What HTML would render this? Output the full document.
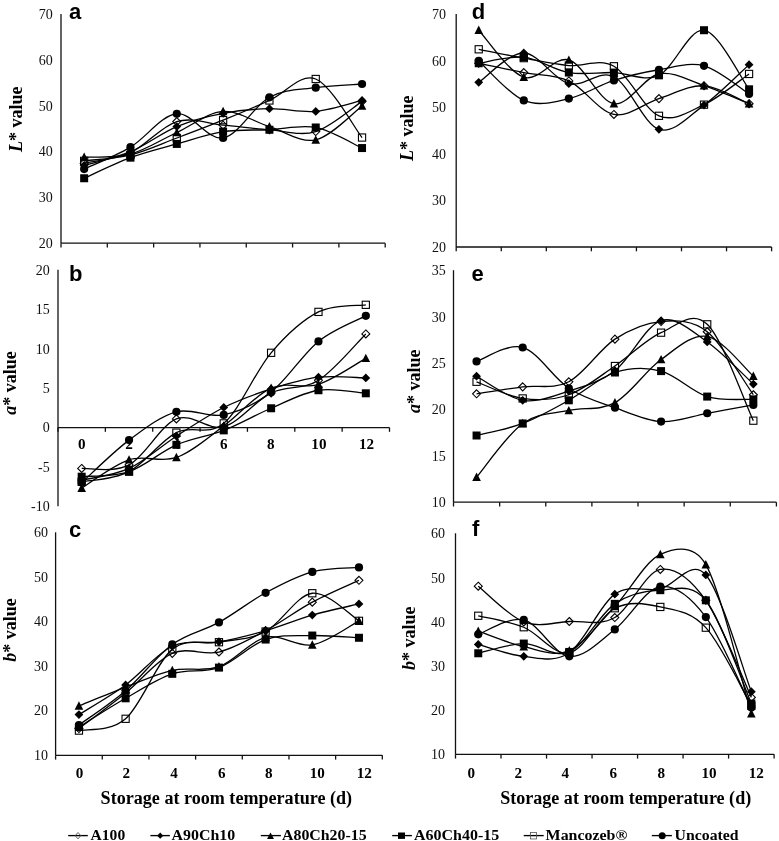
<!DOCTYPE html>
<html><head><meta charset="utf-8"><title>Color values during storage</title>
<style>
html,body{margin:0;padding:0;background:#fff;}
body{width:779px;height:841px;overflow:hidden;}
svg{display:block;will-change:transform;}
.ax{stroke:#111;stroke-width:1.30;fill:none;}
.ln{stroke:#000;stroke-width:1.30;fill:none;}
.tl{font-family:"Liberation Serif",serif;font-size:14px;text-anchor:end;fill:#111;}
.xl{font-family:"Liberation Serif",serif;font-size:14px;font-weight:bold;fill:#000;}
.pl{font-family:"Liberation Sans",sans-serif;font-size:22px;font-weight:bold;fill:#000;}
.yt{font-family:"Liberation Serif",serif;font-size:18px;font-weight:bold;fill:#000;}
.xt{font-family:"Liberation Serif",serif;font-size:18px;font-weight:bold;fill:#000;}
.lg{font-family:"Liberation Serif",serif;font-size:14.5px;font-weight:bold;fill:#000;}
</style></head>
<body>
<svg width="779" height="841" viewBox="0 0 779 841">
<rect width="779" height="841" fill="#fff"/>
<line x1="61.00" y1="14.10" x2="61.00" y2="243.20" class="ax"/>
<line x1="61.00" y1="243.20" x2="385.20" y2="243.20" class="ax"/>
<line x1="61.00" y1="243.20" x2="61.00" y2="247.50" class="ax"/>
<line x1="107.31" y1="243.20" x2="107.31" y2="247.50" class="ax"/>
<line x1="153.63" y1="243.20" x2="153.63" y2="247.50" class="ax"/>
<line x1="199.94" y1="243.20" x2="199.94" y2="247.50" class="ax"/>
<line x1="246.26" y1="243.20" x2="246.26" y2="247.50" class="ax"/>
<line x1="292.57" y1="243.20" x2="292.57" y2="247.50" class="ax"/>
<line x1="338.89" y1="243.20" x2="338.89" y2="247.50" class="ax"/>
<line x1="385.20" y1="243.20" x2="385.20" y2="247.50" class="ax"/>
<text x="52.70" y="19.20" class="tl">70</text>
<text x="52.70" y="64.94" class="tl">60</text>
<text x="52.70" y="110.68" class="tl">50</text>
<text x="52.70" y="156.42" class="tl">40</text>
<text x="52.70" y="202.16" class="tl">30</text>
<text x="52.70" y="247.90" class="tl">20</text>
<path d="M84.16,163.16 C91.88,161.40 115.03,159.57 130.47,152.63 C145.91,145.70 161.35,126.11 176.79,121.53 C192.22,116.96 207.66,123.82 223.10,125.19 C238.54,126.56 253.98,128.70 269.41,129.76 C284.85,130.83 300.29,136.32 315.73,131.59 C331.17,126.87 354.32,106.44 362.04,101.41" class="ln"/>
<path d="M84.16,165.44 C91.88,163.15 115.03,158.20 130.47,151.72 C145.91,145.24 161.35,132.97 176.79,126.56 C192.22,120.16 207.66,116.27 223.10,113.30 C238.54,110.33 253.98,109.03 269.41,108.72 C284.85,108.42 300.29,112.84 315.73,111.47 C331.17,110.10 354.32,102.32 362.04,100.49" class="ln"/>
<path d="M84.16,157.21 C91.88,156.68 115.03,158.12 130.47,154.01 C145.91,149.89 161.35,139.60 176.79,132.51 C192.22,125.42 207.66,112.46 223.10,111.47 C238.54,110.48 253.98,121.84 269.41,126.56 C284.85,131.29 300.29,143.26 315.73,139.83 C331.17,136.40 354.32,111.62 362.04,105.98" class="ln"/>
<path d="M84.16,178.25 C91.88,174.82 115.03,163.38 130.47,157.67 C145.91,151.95 161.35,148.29 176.79,143.94 C192.22,139.60 207.66,133.96 223.10,131.59 C238.54,129.23 253.98,130.45 269.41,129.76 C284.85,129.08 300.29,124.43 315.73,127.48 C331.17,130.53 354.32,144.63 362.04,148.06" class="ln"/>
<path d="M84.16,160.87 C91.88,159.88 115.03,158.73 130.47,154.92 C145.91,151.11 161.35,143.79 176.79,138.00 C192.22,132.20 207.66,126.41 223.10,120.16 C238.54,113.91 253.98,107.35 269.41,100.49 C284.85,93.63 300.29,72.82 315.73,78.99 C331.17,85.17 354.32,127.78 362.04,137.54" class="ln"/>
<path d="M84.16,169.10 C91.88,165.44 115.03,156.37 130.47,147.15 C145.91,137.92 161.35,115.28 176.79,113.76 C192.22,112.23 207.66,140.74 223.10,138.00 C238.54,135.25 253.98,105.68 269.41,97.29 C284.85,88.90 300.29,89.89 315.73,87.68 C331.17,85.47 354.32,84.63 362.04,84.02" class="ln"/>
<path d="M84.16,159.16 L88.16,163.16 L84.16,167.16 L80.16,163.16 Z" fill="none" stroke="#000" stroke-width="1.1"/>
<path d="M130.47,148.63 L134.47,152.63 L130.47,156.63 L126.47,152.63 Z" fill="none" stroke="#000" stroke-width="1.1"/>
<path d="M176.79,117.53 L180.79,121.53 L176.79,125.53 L172.79,121.53 Z" fill="none" stroke="#000" stroke-width="1.1"/>
<path d="M223.10,121.19 L227.10,125.19 L223.10,129.19 L219.10,125.19 Z" fill="none" stroke="#000" stroke-width="1.1"/>
<path d="M269.41,125.76 L273.41,129.76 L269.41,133.76 L265.41,129.76 Z" fill="none" stroke="#000" stroke-width="1.1"/>
<path d="M315.73,127.59 L319.73,131.59 L315.73,135.59 L311.73,131.59 Z" fill="none" stroke="#000" stroke-width="1.1"/>
<path d="M362.04,97.41 L366.04,101.41 L362.04,105.41 L358.04,101.41 Z" fill="none" stroke="#000" stroke-width="1.1"/>
<path d="M84.16,161.04 L88.56,165.44 L84.16,169.84 L79.76,165.44 Z" fill="#000"/>
<path d="M130.47,147.32 L134.87,151.72 L130.47,156.12 L126.07,151.72 Z" fill="#000"/>
<path d="M176.79,122.16 L181.19,126.56 L176.79,130.96 L172.39,126.56 Z" fill="#000"/>
<path d="M223.10,108.90 L227.50,113.30 L223.10,117.70 L218.70,113.30 Z" fill="#000"/>
<path d="M269.41,104.32 L273.81,108.72 L269.41,113.12 L265.01,108.72 Z" fill="#000"/>
<path d="M315.73,107.07 L320.13,111.47 L315.73,115.87 L311.33,111.47 Z" fill="#000"/>
<path d="M362.04,96.09 L366.44,100.49 L362.04,104.89 L357.64,100.49 Z" fill="#000"/>
<path d="M84.16,152.61 L88.46,161.01 L79.86,161.01 Z" fill="#000"/>
<path d="M130.47,149.41 L134.77,157.81 L126.17,157.81 Z" fill="#000"/>
<path d="M176.79,127.91 L181.09,136.31 L172.49,136.31 Z" fill="#000"/>
<path d="M223.10,106.87 L227.40,115.27 L218.80,115.27 Z" fill="#000"/>
<path d="M269.41,121.96 L273.71,130.36 L265.11,130.36 Z" fill="#000"/>
<path d="M315.73,135.23 L320.03,143.63 L311.43,143.63 Z" fill="#000"/>
<path d="M362.04,101.38 L366.34,109.78 L357.74,109.78 Z" fill="#000"/>
<rect x="80.16" y="174.25" width="8.00" height="8.00" fill="#000"/>
<rect x="126.47" y="153.67" width="8.00" height="8.00" fill="#000"/>
<rect x="172.79" y="139.94" width="8.00" height="8.00" fill="#000"/>
<rect x="219.10" y="127.59" width="8.00" height="8.00" fill="#000"/>
<rect x="265.41" y="125.76" width="8.00" height="8.00" fill="#000"/>
<rect x="311.73" y="123.48" width="8.00" height="8.00" fill="#000"/>
<rect x="358.04" y="144.06" width="8.00" height="8.00" fill="#000"/>
<rect x="80.56" y="157.27" width="7.20" height="7.20" fill="none" stroke="#000" stroke-width="1.1"/>
<rect x="126.87" y="151.32" width="7.20" height="7.20" fill="none" stroke="#000" stroke-width="1.1"/>
<rect x="173.19" y="134.40" width="7.20" height="7.20" fill="none" stroke="#000" stroke-width="1.1"/>
<rect x="219.50" y="116.56" width="7.20" height="7.20" fill="none" stroke="#000" stroke-width="1.1"/>
<rect x="265.81" y="96.89" width="7.20" height="7.20" fill="none" stroke="#000" stroke-width="1.1"/>
<rect x="312.13" y="75.39" width="7.20" height="7.20" fill="none" stroke="#000" stroke-width="1.1"/>
<rect x="358.44" y="133.94" width="7.20" height="7.20" fill="none" stroke="#000" stroke-width="1.1"/>
<circle cx="84.16" cy="169.10" r="4.10" fill="#000"/>
<circle cx="130.47" cy="147.15" r="4.10" fill="#000"/>
<circle cx="176.79" cy="113.76" r="4.10" fill="#000"/>
<circle cx="223.10" cy="138.00" r="4.10" fill="#000"/>
<circle cx="269.41" cy="97.29" r="4.10" fill="#000"/>
<circle cx="315.73" cy="87.68" r="4.10" fill="#000"/>
<circle cx="362.04" cy="84.02" r="4.10" fill="#000"/>
<text x="69.00" y="18.80" class="pl">a</text>
<text transform="translate(21.60,119.20) rotate(-90)" class="yt" text-anchor="middle"><tspan font-style="italic">L</tspan>* value</text>
<line x1="58.00" y1="269.80" x2="58.00" y2="506.20" class="ax"/>
<line x1="58.00" y1="427.53" x2="389.50" y2="427.53" class="ax"/>
<line x1="58.00" y1="427.53" x2="58.00" y2="431.83" class="ax"/>
<line x1="105.36" y1="427.53" x2="105.36" y2="431.83" class="ax"/>
<line x1="152.71" y1="427.53" x2="152.71" y2="431.83" class="ax"/>
<line x1="200.07" y1="427.53" x2="200.07" y2="431.83" class="ax"/>
<line x1="247.43" y1="427.53" x2="247.43" y2="431.83" class="ax"/>
<line x1="294.79" y1="427.53" x2="294.79" y2="431.83" class="ax"/>
<line x1="342.14" y1="427.53" x2="342.14" y2="431.83" class="ax"/>
<line x1="389.50" y1="427.53" x2="389.50" y2="431.83" class="ax"/>
<text x="49.70" y="274.90" class="tl">20</text>
<text x="49.70" y="314.23" class="tl">15</text>
<text x="49.70" y="353.57" class="tl">10</text>
<text x="49.70" y="392.90" class="tl">5</text>
<text x="49.70" y="432.23" class="tl">0</text>
<text x="49.70" y="471.57" class="tl">-5</text>
<text x="49.70" y="510.90" class="tl">-10</text>
<path d="M81.68,468.44 C89.57,467.85 113.25,473.16 129.04,464.90 C144.82,456.64 160.61,425.24 176.39,418.88 C192.18,412.52 207.96,431.07 223.75,426.75 C239.54,422.42 255.32,400.66 271.11,392.92 C286.89,385.18 302.68,390.17 318.46,380.33 C334.25,370.50 357.93,341.66 365.82,333.92" class="ln"/>
<path d="M81.68,480.24 C89.57,478.27 113.25,475.78 129.04,468.44 C144.82,461.10 160.61,446.35 176.39,436.19 C192.18,426.03 207.96,415.34 223.75,407.47 C239.54,399.61 255.32,394.03 271.11,388.99 C286.89,383.94 302.68,379.02 318.46,377.19 C334.25,375.35 357.93,377.84 365.82,377.97" class="ln"/>
<path d="M81.68,488.11 C89.57,483.39 113.25,464.90 129.04,459.79 C144.82,454.67 160.61,463.06 176.39,457.43 C192.18,451.79 207.96,437.50 223.75,425.96 C239.54,414.42 255.32,395.15 271.11,388.20 C286.89,381.25 302.68,389.25 318.46,384.27 C334.25,379.28 357.93,362.63 365.82,358.31" class="ln"/>
<path d="M81.68,476.70 C89.57,475.85 113.25,476.90 129.04,471.59 C144.82,466.28 160.61,451.71 176.39,444.84 C192.18,437.97 207.96,436.46 223.75,430.37 C239.54,424.27 255.32,414.95 271.11,408.26 C286.89,401.57 302.68,392.74 318.46,390.25 C334.25,387.75 357.93,392.80 365.82,393.31" class="ln"/>
<path d="M81.68,481.81 C89.57,480.11 113.25,479.78 129.04,471.59 C144.82,463.39 160.61,440.68 176.39,432.65 C192.18,424.61 207.96,436.67 223.75,423.36 C239.54,410.06 255.32,371.38 271.11,352.80 C286.89,334.22 302.68,319.89 318.46,311.89 C334.25,303.90 357.93,305.99 365.82,304.81" class="ln"/>
<path d="M81.68,482.60 C89.57,475.52 113.25,451.92 129.04,440.12 C144.82,428.32 160.61,416.00 176.39,411.80 C192.18,407.60 207.96,418.22 223.75,414.95 C239.54,411.67 255.32,404.39 271.11,392.13 C286.89,379.87 302.68,354.11 318.46,341.39 C334.25,328.68 357.93,320.09 365.82,315.83" class="ln"/>
<path d="M81.68,464.44 L85.68,468.44 L81.68,472.44 L77.68,468.44 Z" fill="none" stroke="#000" stroke-width="1.1"/>
<path d="M129.04,460.90 L133.04,464.90 L129.04,468.90 L125.04,464.90 Z" fill="none" stroke="#000" stroke-width="1.1"/>
<path d="M176.39,414.88 L180.39,418.88 L176.39,422.88 L172.39,418.88 Z" fill="none" stroke="#000" stroke-width="1.1"/>
<path d="M223.75,422.75 L227.75,426.75 L223.75,430.75 L219.75,426.75 Z" fill="none" stroke="#000" stroke-width="1.1"/>
<path d="M271.11,388.92 L275.11,392.92 L271.11,396.92 L267.11,392.92 Z" fill="none" stroke="#000" stroke-width="1.1"/>
<path d="M318.46,376.33 L322.46,380.33 L318.46,384.33 L314.46,380.33 Z" fill="none" stroke="#000" stroke-width="1.1"/>
<path d="M365.82,329.92 L369.82,333.92 L365.82,337.92 L361.82,333.92 Z" fill="none" stroke="#000" stroke-width="1.1"/>
<path d="M81.68,475.84 L86.08,480.24 L81.68,484.64 L77.28,480.24 Z" fill="#000"/>
<path d="M129.04,464.04 L133.44,468.44 L129.04,472.84 L124.64,468.44 Z" fill="#000"/>
<path d="M176.39,431.79 L180.79,436.19 L176.39,440.59 L171.99,436.19 Z" fill="#000"/>
<path d="M223.75,403.07 L228.15,407.47 L223.75,411.87 L219.35,407.47 Z" fill="#000"/>
<path d="M271.11,384.59 L275.51,388.99 L271.11,393.39 L266.71,388.99 Z" fill="#000"/>
<path d="M318.46,372.79 L322.86,377.19 L318.46,381.59 L314.06,377.19 Z" fill="#000"/>
<path d="M365.82,373.57 L370.22,377.97 L365.82,382.37 L361.42,377.97 Z" fill="#000"/>
<path d="M81.68,483.51 L85.98,491.91 L77.38,491.91 Z" fill="#000"/>
<path d="M129.04,455.19 L133.34,463.59 L124.74,463.59 Z" fill="#000"/>
<path d="M176.39,452.83 L180.69,461.23 L172.09,461.23 Z" fill="#000"/>
<path d="M223.75,421.36 L228.05,429.76 L219.45,429.76 Z" fill="#000"/>
<path d="M271.11,383.60 L275.41,392.00 L266.81,392.00 Z" fill="#000"/>
<path d="M318.46,379.67 L322.76,388.07 L314.16,388.07 Z" fill="#000"/>
<path d="M365.82,353.71 L370.12,362.11 L361.52,362.11 Z" fill="#000"/>
<rect x="77.68" y="472.70" width="8.00" height="8.00" fill="#000"/>
<rect x="125.04" y="467.59" width="8.00" height="8.00" fill="#000"/>
<rect x="172.39" y="440.84" width="8.00" height="8.00" fill="#000"/>
<rect x="219.75" y="426.37" width="8.00" height="8.00" fill="#000"/>
<rect x="267.11" y="404.26" width="8.00" height="8.00" fill="#000"/>
<rect x="314.46" y="386.25" width="8.00" height="8.00" fill="#000"/>
<rect x="361.82" y="389.31" width="8.00" height="8.00" fill="#000"/>
<rect x="78.08" y="478.21" width="7.20" height="7.20" fill="none" stroke="#000" stroke-width="1.1"/>
<rect x="125.44" y="467.99" width="7.20" height="7.20" fill="none" stroke="#000" stroke-width="1.1"/>
<rect x="172.79" y="429.05" width="7.20" height="7.20" fill="none" stroke="#000" stroke-width="1.1"/>
<rect x="220.15" y="419.76" width="7.20" height="7.20" fill="none" stroke="#000" stroke-width="1.1"/>
<rect x="267.51" y="349.20" width="7.20" height="7.20" fill="none" stroke="#000" stroke-width="1.1"/>
<rect x="314.86" y="308.29" width="7.20" height="7.20" fill="none" stroke="#000" stroke-width="1.1"/>
<rect x="362.22" y="301.21" width="7.20" height="7.20" fill="none" stroke="#000" stroke-width="1.1"/>
<circle cx="81.68" cy="482.60" r="4.10" fill="#000"/>
<circle cx="129.04" cy="440.12" r="4.10" fill="#000"/>
<circle cx="176.39" cy="411.80" r="4.10" fill="#000"/>
<circle cx="223.75" cy="414.95" r="4.10" fill="#000"/>
<circle cx="271.11" cy="392.13" r="4.10" fill="#000"/>
<circle cx="318.46" cy="341.39" r="4.10" fill="#000"/>
<circle cx="365.82" cy="315.83" r="4.10" fill="#000"/>
<text x="69.00" y="281.40" class="pl">b</text>
<text transform="translate(15.80,382.90) rotate(-90)" class="yt" text-anchor="middle"><tspan font-style="italic">a</tspan>* value</text>
<line x1="55.60" y1="532.30" x2="55.60" y2="755.30" class="ax"/>
<line x1="55.60" y1="755.30" x2="382.30" y2="755.30" class="ax"/>
<line x1="55.60" y1="755.30" x2="55.60" y2="759.60" class="ax"/>
<line x1="102.27" y1="755.30" x2="102.27" y2="759.60" class="ax"/>
<line x1="148.94" y1="755.30" x2="148.94" y2="759.60" class="ax"/>
<line x1="195.61" y1="755.30" x2="195.61" y2="759.60" class="ax"/>
<line x1="242.29" y1="755.30" x2="242.29" y2="759.60" class="ax"/>
<line x1="288.96" y1="755.30" x2="288.96" y2="759.60" class="ax"/>
<line x1="335.63" y1="755.30" x2="335.63" y2="759.60" class="ax"/>
<line x1="382.30" y1="755.30" x2="382.30" y2="759.60" class="ax"/>
<text x="48.10" y="537.40" class="tl">60</text>
<text x="48.10" y="581.92" class="tl">50</text>
<text x="48.10" y="626.44" class="tl">40</text>
<text x="48.10" y="670.96" class="tl">30</text>
<text x="48.10" y="715.48" class="tl">20</text>
<text x="48.10" y="760.00" class="tl">10</text>
<path d="M78.94,728.59 C86.71,722.65 110.05,705.51 125.61,692.97 C141.16,680.43 156.72,660.18 172.28,653.35 C187.84,646.52 203.39,655.80 218.95,652.01 C234.51,648.23 250.06,638.95 265.62,630.64 C281.18,622.33 296.74,610.54 312.29,602.15 C327.85,593.77 351.19,583.97 358.96,580.34" class="ln"/>
<path d="M78.94,714.56 C86.71,709.63 110.05,696.35 125.61,684.96 C141.16,673.57 156.72,653.42 172.28,646.23 C187.84,639.03 203.39,644.37 218.95,641.77 C234.51,639.18 250.06,635.10 265.62,630.64 C281.18,626.19 296.74,619.51 312.29,615.06 C327.85,610.61 351.19,605.79 358.96,603.93" class="ln"/>
<path d="M78.94,705.88 C86.71,702.77 110.05,693.12 125.61,687.18 C141.16,681.25 156.72,673.68 172.28,670.27 C187.84,666.85 203.39,672.20 218.95,666.71 C234.51,661.21 250.06,640.96 265.62,637.32 C281.18,633.69 296.74,647.64 312.29,644.89 C327.85,642.14 351.19,624.86 358.96,620.85" class="ln"/>
<path d="M78.94,727.03 C86.71,722.24 110.05,707.18 125.61,698.31 C141.16,689.45 156.72,678.95 172.28,673.83 C187.84,668.71 203.39,673.31 218.95,667.60 C234.51,661.88 250.06,644.89 265.62,639.55 C281.18,634.21 296.74,635.84 312.29,635.54 C327.85,635.24 351.19,637.40 358.96,637.77" class="ln"/>
<path d="M78.94,730.59 C86.71,728.63 110.05,732.34 125.61,718.79 C141.16,705.25 156.72,662.10 172.28,649.34 C187.84,636.58 203.39,645.19 218.95,642.22 C234.51,639.25 250.06,639.70 265.62,631.53 C281.18,623.37 296.74,595.03 312.29,593.25 C327.85,591.47 351.19,616.25 358.96,620.85" class="ln"/>
<path d="M78.94,725.03 C86.71,719.31 110.05,704.18 125.61,690.75 C141.16,677.32 156.72,655.83 172.28,644.45 C187.84,633.06 203.39,631.01 218.95,622.41 C234.51,613.80 250.06,601.22 265.62,592.80 C281.18,584.38 296.74,576.11 312.29,571.88 C327.85,567.65 351.19,568.17 358.96,567.43" class="ln"/>
<path d="M78.94,724.59 L82.94,728.59 L78.94,732.59 L74.94,728.59 Z" fill="none" stroke="#000" stroke-width="1.1"/>
<path d="M125.61,688.97 L129.61,692.97 L125.61,696.97 L121.61,692.97 Z" fill="none" stroke="#000" stroke-width="1.1"/>
<path d="M172.28,649.35 L176.28,653.35 L172.28,657.35 L168.28,653.35 Z" fill="none" stroke="#000" stroke-width="1.1"/>
<path d="M218.95,648.01 L222.95,652.01 L218.95,656.01 L214.95,652.01 Z" fill="none" stroke="#000" stroke-width="1.1"/>
<path d="M265.62,626.64 L269.62,630.64 L265.62,634.64 L261.62,630.64 Z" fill="none" stroke="#000" stroke-width="1.1"/>
<path d="M312.29,598.15 L316.29,602.15 L312.29,606.15 L308.29,602.15 Z" fill="none" stroke="#000" stroke-width="1.1"/>
<path d="M358.96,576.34 L362.96,580.34 L358.96,584.34 L354.96,580.34 Z" fill="none" stroke="#000" stroke-width="1.1"/>
<path d="M78.94,710.16 L83.34,714.56 L78.94,718.96 L74.54,714.56 Z" fill="#000"/>
<path d="M125.61,680.56 L130.01,684.96 L125.61,689.36 L121.21,684.96 Z" fill="#000"/>
<path d="M172.28,641.83 L176.68,646.23 L172.28,650.63 L167.88,646.23 Z" fill="#000"/>
<path d="M218.95,637.37 L223.35,641.77 L218.95,646.17 L214.55,641.77 Z" fill="#000"/>
<path d="M265.62,626.24 L270.02,630.64 L265.62,635.04 L261.22,630.64 Z" fill="#000"/>
<path d="M312.29,610.66 L316.69,615.06 L312.29,619.46 L307.89,615.06 Z" fill="#000"/>
<path d="M358.96,599.53 L363.36,603.93 L358.96,608.33 L354.56,603.93 Z" fill="#000"/>
<path d="M78.94,701.28 L83.24,709.68 L74.64,709.68 Z" fill="#000"/>
<path d="M125.61,682.58 L129.91,690.98 L121.31,690.98 Z" fill="#000"/>
<path d="M172.28,665.67 L176.58,674.07 L167.98,674.07 Z" fill="#000"/>
<path d="M218.95,662.11 L223.25,670.51 L214.65,670.51 Z" fill="#000"/>
<path d="M265.62,632.72 L269.92,641.12 L261.32,641.12 Z" fill="#000"/>
<path d="M312.29,640.29 L316.59,648.69 L307.99,648.69 Z" fill="#000"/>
<path d="M358.96,616.25 L363.26,624.65 L354.66,624.65 Z" fill="#000"/>
<rect x="74.94" y="723.03" width="8.00" height="8.00" fill="#000"/>
<rect x="121.61" y="694.31" width="8.00" height="8.00" fill="#000"/>
<rect x="168.28" y="669.83" width="8.00" height="8.00" fill="#000"/>
<rect x="214.95" y="663.60" width="8.00" height="8.00" fill="#000"/>
<rect x="261.62" y="635.55" width="8.00" height="8.00" fill="#000"/>
<rect x="308.29" y="631.54" width="8.00" height="8.00" fill="#000"/>
<rect x="354.96" y="633.77" width="8.00" height="8.00" fill="#000"/>
<rect x="75.34" y="726.99" width="7.20" height="7.20" fill="none" stroke="#000" stroke-width="1.1"/>
<rect x="122.01" y="715.19" width="7.20" height="7.20" fill="none" stroke="#000" stroke-width="1.1"/>
<rect x="168.68" y="645.74" width="7.20" height="7.20" fill="none" stroke="#000" stroke-width="1.1"/>
<rect x="215.35" y="638.62" width="7.20" height="7.20" fill="none" stroke="#000" stroke-width="1.1"/>
<rect x="262.02" y="627.93" width="7.20" height="7.20" fill="none" stroke="#000" stroke-width="1.1"/>
<rect x="308.69" y="589.65" width="7.20" height="7.20" fill="none" stroke="#000" stroke-width="1.1"/>
<rect x="355.36" y="617.25" width="7.20" height="7.20" fill="none" stroke="#000" stroke-width="1.1"/>
<circle cx="78.94" cy="725.03" r="4.10" fill="#000"/>
<circle cx="125.61" cy="690.75" r="4.10" fill="#000"/>
<circle cx="172.28" cy="644.45" r="4.10" fill="#000"/>
<circle cx="218.95" cy="622.41" r="4.10" fill="#000"/>
<circle cx="265.62" cy="592.80" r="4.10" fill="#000"/>
<circle cx="312.29" cy="571.88" r="4.10" fill="#000"/>
<circle cx="358.96" cy="567.43" r="4.10" fill="#000"/>
<text x="69.00" y="536.60" class="pl">c</text>
<text transform="translate(16.30,630.00) rotate(-90)" class="yt" text-anchor="middle"><tspan font-style="italic">b</tspan>* value</text>
<line x1="456.20" y1="14.00" x2="456.20" y2="247.00" class="ax"/>
<line x1="456.20" y1="247.00" x2="771.60" y2="247.00" class="ax"/>
<line x1="456.20" y1="247.00" x2="456.20" y2="251.30" class="ax"/>
<line x1="501.26" y1="247.00" x2="501.26" y2="251.30" class="ax"/>
<line x1="546.31" y1="247.00" x2="546.31" y2="251.30" class="ax"/>
<line x1="591.37" y1="247.00" x2="591.37" y2="251.30" class="ax"/>
<line x1="636.43" y1="247.00" x2="636.43" y2="251.30" class="ax"/>
<line x1="681.49" y1="247.00" x2="681.49" y2="251.30" class="ax"/>
<line x1="726.54" y1="247.00" x2="726.54" y2="251.30" class="ax"/>
<line x1="771.60" y1="247.00" x2="771.60" y2="251.30" class="ax"/>
<text x="445.90" y="19.10" class="tl">70</text>
<text x="445.90" y="65.62" class="tl">60</text>
<text x="445.90" y="112.14" class="tl">50</text>
<text x="445.90" y="158.66" class="tl">40</text>
<text x="445.90" y="205.18" class="tl">30</text>
<text x="445.90" y="251.70" class="tl">20</text>
<path d="M478.73,63.25 C486.24,64.80 508.77,69.60 523.79,72.55 C538.80,75.50 553.82,73.95 568.84,80.92 C583.86,87.90 598.88,111.47 613.90,114.42 C628.92,117.36 643.94,103.37 658.96,98.60 C673.98,93.83 689.00,84.96 704.01,85.81 C719.03,86.66 741.56,100.73 749.07,103.72" class="ln"/>
<path d="M478.73,82.32 C486.24,77.43 508.77,52.78 523.79,53.01 C538.80,53.24 553.82,79.76 568.84,83.71 C583.86,87.67 598.88,69.14 613.90,76.74 C628.92,84.34 643.94,124.57 658.96,129.30 C673.98,134.03 689.00,115.89 704.01,105.11 C719.03,94.34 741.56,71.39 749.07,64.64" class="ln"/>
<path d="M478.73,30.22 C486.24,38.05 508.77,72.24 523.79,77.20 C538.80,82.16 553.82,55.57 568.84,59.99 C583.86,64.41 598.88,101.39 613.90,103.72 C628.92,106.04 643.94,76.97 658.96,73.95 C673.98,70.92 689.00,80.61 704.01,85.58 C719.03,90.54 741.56,100.69 749.07,103.72" class="ln"/>
<path d="M478.73,63.25 C486.24,62.24 508.77,55.65 523.79,57.20 C538.80,58.75 553.82,69.99 568.84,72.55 C583.86,75.11 598.88,72.08 613.90,72.55 C628.92,73.02 643.94,82.40 658.96,75.34 C673.98,68.29 689.00,27.89 704.01,30.22 C719.03,32.54 741.56,79.45 749.07,89.30" class="ln"/>
<path d="M478.73,49.29 C486.24,50.76 508.77,55.42 523.79,58.13 C538.80,60.84 553.82,64.22 568.84,65.57 C583.86,66.93 598.88,57.90 613.90,66.27 C628.92,74.64 643.94,109.42 658.96,115.81 C673.98,122.21 689.00,111.63 704.01,104.65 C719.03,97.67 741.56,79.06 749.07,73.95" class="ln"/>
<path d="M478.73,60.92 C486.24,67.51 508.77,94.18 523.79,100.46 C538.80,106.74 553.82,101.94 568.84,98.60 C583.86,95.27 598.88,85.27 613.90,80.46 C628.92,75.65 643.94,72.20 658.96,69.76 C673.98,67.32 689.00,61.77 704.01,65.80 C719.03,69.84 741.56,89.26 749.07,93.95" class="ln"/>
<path d="M478.73,59.25 L482.73,63.25 L478.73,67.25 L474.73,63.25 Z" fill="none" stroke="#000" stroke-width="1.1"/>
<path d="M523.79,68.55 L527.79,72.55 L523.79,76.55 L519.79,72.55 Z" fill="none" stroke="#000" stroke-width="1.1"/>
<path d="M568.84,76.92 L572.84,80.92 L568.84,84.92 L564.84,80.92 Z" fill="none" stroke="#000" stroke-width="1.1"/>
<path d="M613.90,110.42 L617.90,114.42 L613.90,118.42 L609.90,114.42 Z" fill="none" stroke="#000" stroke-width="1.1"/>
<path d="M658.96,94.60 L662.96,98.60 L658.96,102.60 L654.96,98.60 Z" fill="none" stroke="#000" stroke-width="1.1"/>
<path d="M704.01,81.81 L708.01,85.81 L704.01,89.81 L700.01,85.81 Z" fill="none" stroke="#000" stroke-width="1.1"/>
<path d="M749.07,99.72 L753.07,103.72 L749.07,107.72 L745.07,103.72 Z" fill="none" stroke="#000" stroke-width="1.1"/>
<path d="M478.73,77.92 L483.13,82.32 L478.73,86.72 L474.33,82.32 Z" fill="#000"/>
<path d="M523.79,48.61 L528.19,53.01 L523.79,57.41 L519.39,53.01 Z" fill="#000"/>
<path d="M568.84,79.31 L573.24,83.71 L568.84,88.11 L564.44,83.71 Z" fill="#000"/>
<path d="M613.90,72.34 L618.30,76.74 L613.90,81.14 L609.50,76.74 Z" fill="#000"/>
<path d="M658.96,124.90 L663.36,129.30 L658.96,133.70 L654.56,129.30 Z" fill="#000"/>
<path d="M704.01,100.71 L708.41,105.11 L704.01,109.51 L699.61,105.11 Z" fill="#000"/>
<path d="M749.07,60.24 L753.47,64.64 L749.07,69.04 L744.67,64.64 Z" fill="#000"/>
<path d="M478.73,25.62 L483.03,34.02 L474.43,34.02 Z" fill="#000"/>
<path d="M523.79,72.60 L528.09,81.00 L519.49,81.00 Z" fill="#000"/>
<path d="M568.84,55.39 L573.14,63.79 L564.54,63.79 Z" fill="#000"/>
<path d="M613.90,99.12 L618.20,107.52 L609.60,107.52 Z" fill="#000"/>
<path d="M658.96,69.35 L663.26,77.75 L654.66,77.75 Z" fill="#000"/>
<path d="M704.01,80.98 L708.31,89.38 L699.71,89.38 Z" fill="#000"/>
<path d="M749.07,99.12 L753.37,107.52 L744.77,107.52 Z" fill="#000"/>
<rect x="474.73" y="59.25" width="8.00" height="8.00" fill="#000"/>
<rect x="519.79" y="53.20" width="8.00" height="8.00" fill="#000"/>
<rect x="564.84" y="68.55" width="8.00" height="8.00" fill="#000"/>
<rect x="609.90" y="68.55" width="8.00" height="8.00" fill="#000"/>
<rect x="654.96" y="71.34" width="8.00" height="8.00" fill="#000"/>
<rect x="700.01" y="26.22" width="8.00" height="8.00" fill="#000"/>
<rect x="745.07" y="85.30" width="8.00" height="8.00" fill="#000"/>
<rect x="475.13" y="45.69" width="7.20" height="7.20" fill="none" stroke="#000" stroke-width="1.1"/>
<rect x="520.19" y="54.53" width="7.20" height="7.20" fill="none" stroke="#000" stroke-width="1.1"/>
<rect x="565.24" y="61.97" width="7.20" height="7.20" fill="none" stroke="#000" stroke-width="1.1"/>
<rect x="610.30" y="62.67" width="7.20" height="7.20" fill="none" stroke="#000" stroke-width="1.1"/>
<rect x="655.36" y="112.21" width="7.20" height="7.20" fill="none" stroke="#000" stroke-width="1.1"/>
<rect x="700.41" y="101.05" width="7.20" height="7.20" fill="none" stroke="#000" stroke-width="1.1"/>
<rect x="745.47" y="70.35" width="7.20" height="7.20" fill="none" stroke="#000" stroke-width="1.1"/>
<circle cx="478.73" cy="60.92" r="4.10" fill="#000"/>
<circle cx="523.79" cy="100.46" r="4.10" fill="#000"/>
<circle cx="568.84" cy="98.60" r="4.10" fill="#000"/>
<circle cx="613.90" cy="80.46" r="4.10" fill="#000"/>
<circle cx="658.96" cy="69.76" r="4.10" fill="#000"/>
<circle cx="704.01" cy="65.80" r="4.10" fill="#000"/>
<circle cx="749.07" cy="93.95" r="4.10" fill="#000"/>
<text x="471.80" y="18.80" class="pl">d</text>
<text transform="translate(413.40,128.30) rotate(-90)" class="yt" text-anchor="middle"><tspan font-style="italic">L</tspan>* value</text>
<line x1="453.50" y1="270.20" x2="453.50" y2="502.20" class="ax"/>
<line x1="453.50" y1="502.20" x2="776.40" y2="502.20" class="ax"/>
<line x1="453.50" y1="502.20" x2="453.50" y2="506.50" class="ax"/>
<line x1="499.63" y1="502.20" x2="499.63" y2="506.50" class="ax"/>
<line x1="545.76" y1="502.20" x2="545.76" y2="506.50" class="ax"/>
<line x1="591.89" y1="502.20" x2="591.89" y2="506.50" class="ax"/>
<line x1="638.01" y1="502.20" x2="638.01" y2="506.50" class="ax"/>
<line x1="684.14" y1="502.20" x2="684.14" y2="506.50" class="ax"/>
<line x1="730.27" y1="502.20" x2="730.27" y2="506.50" class="ax"/>
<line x1="776.40" y1="502.20" x2="776.40" y2="506.50" class="ax"/>
<text x="445.70" y="275.30" class="tl">35</text>
<text x="445.70" y="321.62" class="tl">30</text>
<text x="445.70" y="367.94" class="tl">25</text>
<text x="445.70" y="414.26" class="tl">20</text>
<text x="445.70" y="460.58" class="tl">15</text>
<text x="445.70" y="506.90" class="tl">10</text>
<path d="M476.56,393.81 C484.25,392.65 507.32,388.87 522.69,386.86 C538.07,384.86 553.45,389.72 568.82,381.77 C584.20,373.82 599.57,349.19 614.95,339.15 C630.33,329.12 645.70,322.79 661.08,321.55 C676.45,320.32 691.83,319.54 707.21,331.74 C722.58,343.94 745.65,384.24 753.34,394.74" class="ln"/>
<path d="M476.56,376.21 C484.25,380.22 507.32,397.83 522.69,400.30 C538.07,402.77 553.45,395.97 568.82,391.03 C584.20,386.09 599.57,382.39 614.95,370.65 C630.33,358.92 645.70,325.41 661.08,320.63 C676.45,315.84 691.83,331.36 707.21,341.93 C722.58,352.51 745.65,377.06 753.34,384.08" class="ln"/>
<path d="M476.56,477.19 C484.25,468.23 507.32,434.57 522.69,423.46 C538.07,412.34 553.45,413.96 568.82,410.49 C584.20,407.01 599.57,411.10 614.95,402.61 C630.33,394.12 645.70,370.57 661.08,359.53 C676.45,348.49 691.83,333.60 707.21,336.37 C722.58,339.15 745.65,369.57 753.34,376.21" class="ln"/>
<path d="M476.56,435.50 C484.25,433.49 507.32,429.32 522.69,423.46 C538.07,417.59 553.45,408.79 568.82,400.30 C584.20,391.80 599.57,377.37 614.95,372.50 C630.33,367.64 645.70,367.10 661.08,371.11 C676.45,375.13 691.83,391.88 707.21,396.59 C722.58,401.30 745.65,398.91 753.34,399.37" class="ln"/>
<path d="M476.56,381.77 C484.25,384.55 507.32,396.28 522.69,398.44 C538.07,400.60 553.45,400.14 568.82,394.74 C584.20,389.33 599.57,376.36 614.95,366.02 C630.33,355.67 645.70,339.62 661.08,332.67 C676.45,325.72 691.83,309.66 707.21,324.33 C722.58,339.00 745.65,404.62 753.34,420.68" class="ln"/>
<path d="M476.56,361.39 C484.25,359.07 507.32,343.01 522.69,347.49 C538.07,351.97 553.45,378.22 568.82,388.25 C584.20,398.29 599.57,402.15 614.95,407.71 C630.33,413.27 645.70,420.68 661.08,421.60 C676.45,422.53 691.83,416.04 707.21,413.27 C722.58,410.49 745.65,406.32 753.34,404.93" class="ln"/>
<path d="M476.56,389.81 L480.56,393.81 L476.56,397.81 L472.56,393.81 Z" fill="none" stroke="#000" stroke-width="1.1"/>
<path d="M522.69,382.86 L526.69,386.86 L522.69,390.86 L518.69,386.86 Z" fill="none" stroke="#000" stroke-width="1.1"/>
<path d="M568.82,377.77 L572.82,381.77 L568.82,385.77 L564.82,381.77 Z" fill="none" stroke="#000" stroke-width="1.1"/>
<path d="M614.95,335.15 L618.95,339.15 L614.95,343.15 L610.95,339.15 Z" fill="none" stroke="#000" stroke-width="1.1"/>
<path d="M661.08,317.55 L665.08,321.55 L661.08,325.55 L657.08,321.55 Z" fill="none" stroke="#000" stroke-width="1.1"/>
<path d="M707.21,327.74 L711.21,331.74 L707.21,335.74 L703.21,331.74 Z" fill="none" stroke="#000" stroke-width="1.1"/>
<path d="M753.34,390.74 L757.34,394.74 L753.34,398.74 L749.34,394.74 Z" fill="none" stroke="#000" stroke-width="1.1"/>
<path d="M476.56,371.81 L480.96,376.21 L476.56,380.61 L472.16,376.21 Z" fill="#000"/>
<path d="M522.69,395.90 L527.09,400.30 L522.69,404.70 L518.29,400.30 Z" fill="#000"/>
<path d="M568.82,386.63 L573.22,391.03 L568.82,395.43 L564.42,391.03 Z" fill="#000"/>
<path d="M614.95,366.25 L619.35,370.65 L614.95,375.05 L610.55,370.65 Z" fill="#000"/>
<path d="M661.08,316.23 L665.48,320.63 L661.08,325.03 L656.68,320.63 Z" fill="#000"/>
<path d="M707.21,337.53 L711.61,341.93 L707.21,346.33 L702.81,341.93 Z" fill="#000"/>
<path d="M753.34,379.68 L757.74,384.08 L753.34,388.48 L748.94,384.08 Z" fill="#000"/>
<path d="M476.56,472.59 L480.86,480.99 L472.26,480.99 Z" fill="#000"/>
<path d="M522.69,418.86 L526.99,427.26 L518.39,427.26 Z" fill="#000"/>
<path d="M568.82,405.89 L573.12,414.29 L564.52,414.29 Z" fill="#000"/>
<path d="M614.95,398.01 L619.25,406.41 L610.65,406.41 Z" fill="#000"/>
<path d="M661.08,354.93 L665.38,363.33 L656.78,363.33 Z" fill="#000"/>
<path d="M707.21,331.77 L711.51,340.17 L702.91,340.17 Z" fill="#000"/>
<path d="M753.34,371.61 L757.64,380.01 L749.04,380.01 Z" fill="#000"/>
<rect x="472.56" y="431.50" width="8.00" height="8.00" fill="#000"/>
<rect x="518.69" y="419.46" width="8.00" height="8.00" fill="#000"/>
<rect x="564.82" y="396.30" width="8.00" height="8.00" fill="#000"/>
<rect x="610.95" y="368.50" width="8.00" height="8.00" fill="#000"/>
<rect x="657.08" y="367.11" width="8.00" height="8.00" fill="#000"/>
<rect x="703.21" y="392.59" width="8.00" height="8.00" fill="#000"/>
<rect x="749.34" y="395.37" width="8.00" height="8.00" fill="#000"/>
<rect x="472.96" y="378.17" width="7.20" height="7.20" fill="none" stroke="#000" stroke-width="1.1"/>
<rect x="519.09" y="394.84" width="7.20" height="7.20" fill="none" stroke="#000" stroke-width="1.1"/>
<rect x="565.22" y="391.14" width="7.20" height="7.20" fill="none" stroke="#000" stroke-width="1.1"/>
<rect x="611.35" y="362.42" width="7.20" height="7.20" fill="none" stroke="#000" stroke-width="1.1"/>
<rect x="657.48" y="329.07" width="7.20" height="7.20" fill="none" stroke="#000" stroke-width="1.1"/>
<rect x="703.61" y="320.73" width="7.20" height="7.20" fill="none" stroke="#000" stroke-width="1.1"/>
<rect x="749.74" y="417.08" width="7.20" height="7.20" fill="none" stroke="#000" stroke-width="1.1"/>
<circle cx="476.56" cy="361.39" r="4.10" fill="#000"/>
<circle cx="522.69" cy="347.49" r="4.10" fill="#000"/>
<circle cx="568.82" cy="388.25" r="4.10" fill="#000"/>
<circle cx="614.95" cy="407.71" r="4.10" fill="#000"/>
<circle cx="661.08" cy="421.60" r="4.10" fill="#000"/>
<circle cx="707.21" cy="413.27" r="4.10" fill="#000"/>
<circle cx="753.34" cy="404.93" r="4.10" fill="#000"/>
<text x="471.50" y="281.20" class="pl">e</text>
<text transform="translate(419.60,381.30) rotate(-90)" class="yt" text-anchor="middle"><tspan font-style="italic">a</tspan>* value</text>
<line x1="455.50" y1="533.30" x2="455.50" y2="754.30" class="ax"/>
<line x1="455.50" y1="754.30" x2="774.10" y2="754.30" class="ax"/>
<line x1="455.50" y1="754.30" x2="455.50" y2="758.60" class="ax"/>
<line x1="501.01" y1="754.30" x2="501.01" y2="758.60" class="ax"/>
<line x1="546.53" y1="754.30" x2="546.53" y2="758.60" class="ax"/>
<line x1="592.04" y1="754.30" x2="592.04" y2="758.60" class="ax"/>
<line x1="637.56" y1="754.30" x2="637.56" y2="758.60" class="ax"/>
<line x1="683.07" y1="754.30" x2="683.07" y2="758.60" class="ax"/>
<line x1="728.59" y1="754.30" x2="728.59" y2="758.60" class="ax"/>
<line x1="774.10" y1="754.30" x2="774.10" y2="758.60" class="ax"/>
<text x="445.00" y="538.40" class="tl">60</text>
<text x="445.00" y="582.52" class="tl">50</text>
<text x="445.00" y="626.64" class="tl">40</text>
<text x="445.00" y="670.76" class="tl">30</text>
<text x="445.00" y="714.88" class="tl">20</text>
<text x="445.00" y="759.00" class="tl">10</text>
<path d="M478.26,586.20 C485.84,592.16 508.60,616.06 523.77,621.94 C538.94,627.82 554.11,622.23 569.29,621.50 C584.46,620.76 599.63,626.20 614.80,617.53 C629.97,608.85 645.14,572.31 660.31,569.44 C675.49,566.57 690.66,579.00 705.83,600.32 C721.00,621.65 743.76,681.21 751.34,697.39" class="ln"/>
<path d="M478.26,644.44 C485.84,646.43 508.60,654.96 523.77,656.35 C538.94,657.75 554.11,663.19 569.29,652.82 C584.46,642.46 599.63,604.81 614.80,594.14 C629.97,583.48 645.14,592.05 660.31,588.85 C675.49,585.65 690.66,557.82 705.83,574.95 C721.00,592.09 743.76,672.20 751.34,691.65" class="ln"/>
<path d="M478.26,631.21 C485.84,633.78 508.60,643.41 523.77,646.65 C538.94,649.88 554.11,657.31 569.29,650.62 C584.46,643.93 599.63,622.53 614.80,606.50 C629.97,590.47 645.14,561.42 660.31,554.44 C675.49,547.45 694.26,544.34 705.83,564.58 C721.00,591.13 743.76,688.86 751.34,713.71" class="ln"/>
<path d="M478.26,653.27 C485.84,651.65 508.60,643.78 523.77,643.56 C538.94,643.34 554.11,658.56 569.29,651.94 C584.46,645.32 599.63,614.15 614.80,603.85 C629.97,593.56 645.14,590.76 660.31,590.17 C675.49,589.59 691.23,582.14 705.83,600.32 C721.00,619.22 743.76,686.36 751.34,703.56" class="ln"/>
<path d="M478.26,615.76 C485.84,617.68 508.60,621.06 523.77,627.23 C538.94,633.41 554.11,655.99 569.29,652.82 C584.46,649.66 599.63,615.91 614.80,608.26 C629.97,600.62 645.14,603.70 660.31,606.94 C675.49,610.17 690.66,611.20 705.83,627.68 C721.00,644.15 743.76,692.75 751.34,705.77" class="ln"/>
<path d="M478.26,634.29 C485.84,631.90 508.60,616.28 523.77,619.95 C538.94,623.63 554.11,654.77 569.29,656.35 C584.46,657.93 599.63,641.06 614.80,629.44 C629.97,617.82 645.14,588.70 660.31,586.64 C675.49,584.59 690.66,596.94 705.83,617.09 C721.00,637.23 743.76,692.46 751.34,707.53" class="ln"/>
<path d="M478.26,582.20 L482.26,586.20 L478.26,590.20 L474.26,586.20 Z" fill="none" stroke="#000" stroke-width="1.1"/>
<path d="M523.77,617.94 L527.77,621.94 L523.77,625.94 L519.77,621.94 Z" fill="none" stroke="#000" stroke-width="1.1"/>
<path d="M569.29,617.50 L573.29,621.50 L569.29,625.50 L565.29,621.50 Z" fill="none" stroke="#000" stroke-width="1.1"/>
<path d="M614.80,613.53 L618.80,617.53 L614.80,621.53 L610.80,617.53 Z" fill="none" stroke="#000" stroke-width="1.1"/>
<path d="M660.31,565.44 L664.31,569.44 L660.31,573.44 L656.31,569.44 Z" fill="none" stroke="#000" stroke-width="1.1"/>
<path d="M705.83,596.32 L709.83,600.32 L705.83,604.32 L701.83,600.32 Z" fill="none" stroke="#000" stroke-width="1.1"/>
<path d="M751.34,693.39 L755.34,697.39 L751.34,701.39 L747.34,697.39 Z" fill="none" stroke="#000" stroke-width="1.1"/>
<path d="M478.26,640.04 L482.66,644.44 L478.26,648.84 L473.86,644.44 Z" fill="#000"/>
<path d="M523.77,651.95 L528.17,656.35 L523.77,660.75 L519.37,656.35 Z" fill="#000"/>
<path d="M569.29,648.42 L573.69,652.82 L569.29,657.22 L564.89,652.82 Z" fill="#000"/>
<path d="M614.80,589.74 L619.20,594.14 L614.80,598.54 L610.40,594.14 Z" fill="#000"/>
<path d="M660.31,584.45 L664.71,588.85 L660.31,593.25 L655.91,588.85 Z" fill="#000"/>
<path d="M705.83,570.55 L710.23,574.95 L705.83,579.35 L701.43,574.95 Z" fill="#000"/>
<path d="M751.34,687.25 L755.74,691.65 L751.34,696.05 L746.94,691.65 Z" fill="#000"/>
<path d="M478.26,626.61 L482.56,635.01 L473.96,635.01 Z" fill="#000"/>
<path d="M523.77,642.05 L528.07,650.45 L519.47,650.45 Z" fill="#000"/>
<path d="M569.29,646.02 L573.59,654.42 L564.99,654.42 Z" fill="#000"/>
<path d="M614.80,601.90 L619.10,610.30 L610.50,610.30 Z" fill="#000"/>
<path d="M660.31,549.84 L664.61,558.24 L656.01,558.24 Z" fill="#000"/>
<path d="M705.83,559.98 L710.13,568.38 L701.53,568.38 Z" fill="#000"/>
<path d="M751.34,709.11 L755.64,717.51 L747.04,717.51 Z" fill="#000"/>
<rect x="474.26" y="649.27" width="8.00" height="8.00" fill="#000"/>
<rect x="519.77" y="639.56" width="8.00" height="8.00" fill="#000"/>
<rect x="565.29" y="647.94" width="8.00" height="8.00" fill="#000"/>
<rect x="610.80" y="599.85" width="8.00" height="8.00" fill="#000"/>
<rect x="656.31" y="586.17" width="8.00" height="8.00" fill="#000"/>
<rect x="701.83" y="596.32" width="8.00" height="8.00" fill="#000"/>
<rect x="747.34" y="699.56" width="8.00" height="8.00" fill="#000"/>
<rect x="474.66" y="612.16" width="7.20" height="7.20" fill="none" stroke="#000" stroke-width="1.1"/>
<rect x="520.17" y="623.63" width="7.20" height="7.20" fill="none" stroke="#000" stroke-width="1.1"/>
<rect x="565.69" y="649.22" width="7.20" height="7.20" fill="none" stroke="#000" stroke-width="1.1"/>
<rect x="611.20" y="604.66" width="7.20" height="7.20" fill="none" stroke="#000" stroke-width="1.1"/>
<rect x="656.71" y="603.34" width="7.20" height="7.20" fill="none" stroke="#000" stroke-width="1.1"/>
<rect x="702.23" y="624.08" width="7.20" height="7.20" fill="none" stroke="#000" stroke-width="1.1"/>
<rect x="747.74" y="702.17" width="7.20" height="7.20" fill="none" stroke="#000" stroke-width="1.1"/>
<circle cx="478.26" cy="634.29" r="4.10" fill="#000"/>
<circle cx="523.77" cy="619.95" r="4.10" fill="#000"/>
<circle cx="569.29" cy="656.35" r="4.10" fill="#000"/>
<circle cx="614.80" cy="629.44" r="4.10" fill="#000"/>
<circle cx="660.31" cy="586.64" r="4.10" fill="#000"/>
<circle cx="705.83" cy="617.09" r="4.10" fill="#000"/>
<circle cx="751.34" cy="707.53" r="4.10" fill="#000"/>
<text x="472.00" y="536.00" class="pl">f</text>
<text transform="translate(415.40,638.30) rotate(-90)" class="yt" text-anchor="middle"><tspan font-style="italic">b</tspan>* value</text>
<text transform="translate(81.70,448.70) scale(1.08,1)" class="xl" text-anchor="middle">0</text>
<text transform="translate(129.00,448.70) scale(1.08,1)" class="xl" text-anchor="middle">2</text>
<text transform="translate(176.40,448.70) scale(1.08,1)" class="xl" text-anchor="middle">4</text>
<text transform="translate(223.70,448.70) scale(1.08,1)" class="xl" text-anchor="middle">6</text>
<text transform="translate(270.70,448.70) scale(1.08,1)" class="xl" text-anchor="middle">8</text>
<text transform="translate(318.90,448.70) scale(1.08,1)" class="xl" text-anchor="middle">10</text>
<text transform="translate(366.60,448.70) scale(1.08,1)" class="xl" text-anchor="middle">12</text>
<text transform="translate(79.60,778.20) scale(1.08,1)" class="xl" text-anchor="middle">0</text>
<text transform="translate(126.30,778.20) scale(1.08,1)" class="xl" text-anchor="middle">2</text>
<text transform="translate(174.00,778.20) scale(1.08,1)" class="xl" text-anchor="middle">4</text>
<text transform="translate(221.80,778.20) scale(1.08,1)" class="xl" text-anchor="middle">6</text>
<text transform="translate(268.80,778.20) scale(1.08,1)" class="xl" text-anchor="middle">8</text>
<text transform="translate(317.20,778.20) scale(1.08,1)" class="xl" text-anchor="middle">10</text>
<text transform="translate(364.30,778.20) scale(1.08,1)" class="xl" text-anchor="middle">12</text>
<text transform="translate(471.40,778.20) scale(1.08,1)" class="xl" text-anchor="middle">0</text>
<text transform="translate(518.40,778.20) scale(1.08,1)" class="xl" text-anchor="middle">2</text>
<text transform="translate(565.40,778.20) scale(1.08,1)" class="xl" text-anchor="middle">4</text>
<text transform="translate(613.20,778.20) scale(1.08,1)" class="xl" text-anchor="middle">6</text>
<text transform="translate(661.20,778.20) scale(1.08,1)" class="xl" text-anchor="middle">8</text>
<text transform="translate(709.00,778.20) scale(1.08,1)" class="xl" text-anchor="middle">10</text>
<text transform="translate(756.20,778.20) scale(1.08,1)" class="xl" text-anchor="middle">12</text>
<text x="100.6" y="804.0" class="xt" textLength="251.5" lengthAdjust="spacingAndGlyphs">Storage at room temperature (d)</text>
<text x="500.2" y="804.0" class="xt" textLength="251.0" lengthAdjust="spacingAndGlyphs">Storage at room temperature (d)</text>
<line x1="68.20" y1="835.60" x2="87.80" y2="835.60" stroke="#000" stroke-width="1.35"/>
<path d="M78.00,832.50 L80.80,835.70 L78.00,838.90 L75.20,835.70 Z" fill="none" stroke="#555" stroke-width="0.9"/>
<text x="90.60" y="840.2" class="lg" textLength="34.6" lengthAdjust="spacingAndGlyphs">A100</text>
<line x1="150.40" y1="835.60" x2="169.90" y2="835.60" stroke="#000" stroke-width="1.35"/>
<path d="M160.20,832.60 L163.30,835.70 L160.20,838.80 L157.10,835.70 Z" fill="#000"/>
<text x="171.60" y="840.2" class="lg" textLength="63.6" lengthAdjust="spacingAndGlyphs">A90Ch10</text>
<line x1="260.80" y1="835.60" x2="280.90" y2="835.60" stroke="#000" stroke-width="1.35"/>
<path d="M270.50,832.40 L274.00,838.90 L267.00,838.90 Z" fill="#000"/>
<text x="282.00" y="840.2" class="lg" textLength="84.6" lengthAdjust="spacingAndGlyphs">A80Ch20-15</text>
<line x1="392.20" y1="835.60" x2="411.90" y2="835.60" stroke="#000" stroke-width="1.35"/>
<rect x="398.00" y="832.50" width="7.0" height="6.4" fill="#000"/>
<text x="414.00" y="840.2" class="lg" textLength="85.2" lengthAdjust="spacingAndGlyphs">A60Ch40-15</text>
<line x1="523.70" y1="835.60" x2="543.70" y2="835.60" stroke="#000" stroke-width="1.35"/>
<rect x="530.55" y="832.45" width="5.9" height="6.5" fill="none" stroke="#555" stroke-width="0.8"/>
<text x="545.60" y="840.2" class="lg" textLength="81.8" lengthAdjust="spacingAndGlyphs">Mancozeb®</text>
<line x1="651.80" y1="835.60" x2="671.90" y2="835.60" stroke="#000" stroke-width="1.35"/>
<circle cx="662.20" cy="835.70" r="3.5" fill="#000"/>
<text x="674.60" y="840.2" class="lg" textLength="64.0" lengthAdjust="spacingAndGlyphs">Uncoated</text>
</svg>
</body></html>
